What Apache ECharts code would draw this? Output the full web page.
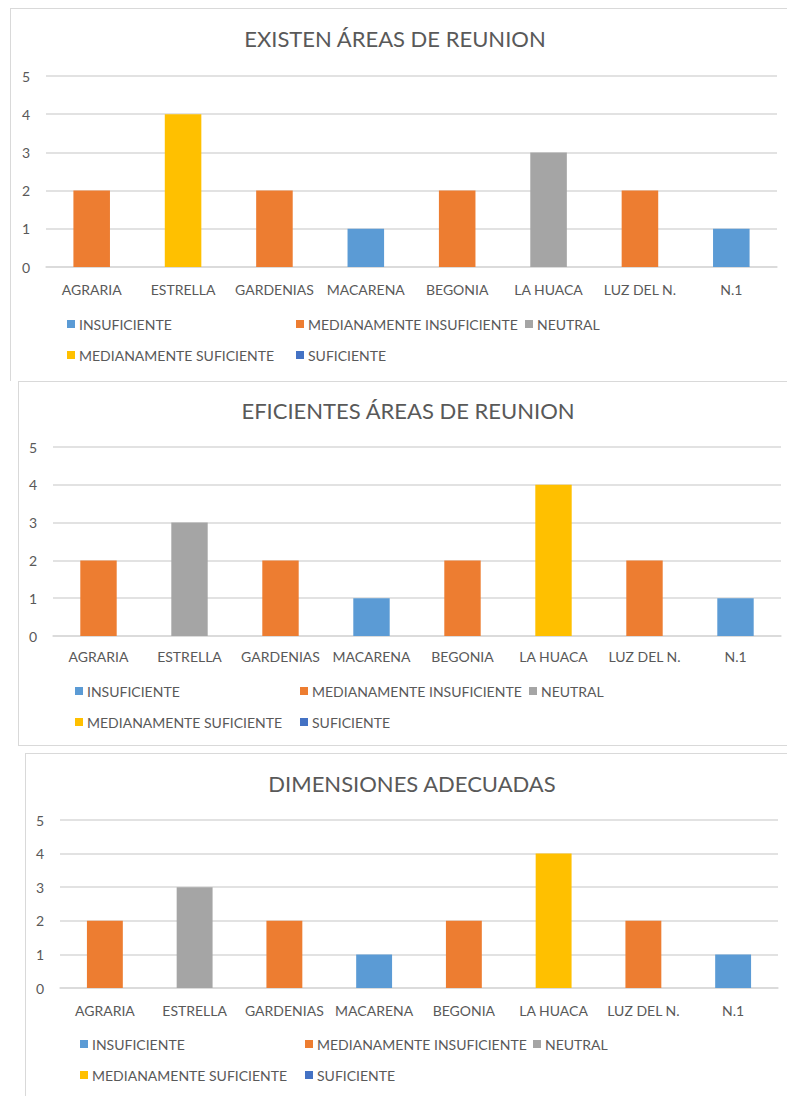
<!DOCTYPE html>
<html>
<head>
<meta charset="utf-8">
<script src="https://cdn.jsdelivr.net/npm/echarts@6/dist/echarts.min.js"></script>
<style>
  html, body { margin: 0; padding: 0; width: 787px; height: 1096px; overflow: hidden; background: #fff; }
  .panel { position: absolute; border: 1px solid #d9d9d9; background: #fff; }
</style>
</head>
<body>
<div class="panel" style="left:10px;top:8px;width:800px;height:372px;border-bottom:none;">
  <div id="c1" style="width:768px;height:372px;"></div>
</div>
<div class="panel" style="left:18px;top:381px;width:800px;height:363px;">
  <div id="c2" style="width:778px;height:363px;"></div>
</div>
<div class="panel" style="left:25px;top:753px;width:800px;height:400px;">
  <div id="c3" style="width:772px;height:400px;"></div>
</div>
<script>
// data
const categories = ['AGRARIA', 'ESTRELLA', 'GARDENIAS', 'MACARENA', 'BEGONIA', 'LA HUACA', 'LUZ DEL N.', 'N.1'];
const seriesNames = ['INSUFICIENTE', 'MEDIANAMENTE INSUFICIENTE', 'NEUTRAL', 'MEDIANAMENTE SUFICIENTE', 'SUFICIENTE'];
const seriesColors = ['#5b9bd5', '#ed7d31', '#a5a5a5', '#ffc000', '#4472c4'];
const yTicks = [0, 1, 2, 3, 4, 5];

// EXISTEN ÁREAS DE REUNION
const existenInsuficiente      = [0, 0, 0, 1, 0, 0, 0, 1];
const existenMedInsuficiente   = [2, 0, 2, 0, 2, 0, 2, 0];
const existenNeutral           = [0, 0, 0, 0, 0, 3, 0, 0];
const existenMedSuficiente     = [0, 4, 0, 0, 0, 0, 0, 0];
const existenSuficiente        = [0, 0, 0, 0, 0, 0, 0, 0];

// EFICIENTES ÁREAS DE REUNION
const eficientesInsuficiente    = [0, 0, 0, 1, 0, 0, 0, 1];
const eficientesMedInsuficiente = [2, 0, 2, 0, 2, 0, 2, 0];
const eficientesNeutral         = [0, 3, 0, 0, 0, 0, 0, 0];
const eficientesMedSuficiente   = [0, 0, 0, 0, 0, 4, 0, 0];
const eficientesSuficiente      = [0, 0, 0, 0, 0, 0, 0, 0];

// DIMENSIONES ADECUADAS
const dimensionesInsuficiente    = [0, 0, 0, 1, 0, 0, 0, 1];
const dimensionesMedInsuficiente = [2, 0, 2, 0, 2, 0, 2, 0];
const dimensionesNeutral         = [0, 3, 0, 0, 0, 0, 0, 0];
const dimensionesMedSuficiente   = [0, 0, 0, 0, 0, 4, 0, 0];
const dimensionesSuficiente      = [0, 0, 0, 0, 0, 0, 0, 0];

const font = 'Lato, "Open Sans", sans-serif';
const textColor = '#595959';

function buildChart(el, title, values, lay) {
    const chart = echarts.init(document.getElementById(el), null, { renderer: 'svg' });
    const legendPos = [
        [lay.legendLeft[0], lay.legendTop[0]],
        [lay.legendLeft[1], lay.legendTop[0]],
        [lay.legendLeft[2], lay.legendTop[0]],
        [lay.legendLeft[0], lay.legendTop[1]],
        [lay.legendLeft[1], lay.legendTop[1]]
    ];
    chart.setOption({
        animation: false,
        title: {
            text: title, left: 'center', top: lay.titleTop, padding: 0,
            textStyle: { fontFamily: font, fontSize: 22, fontWeight: 'normal', color: textColor }
        },
        grid: { left: lay.gridLeft, top: lay.gridTop, width: lay.gridWidth, height: lay.gridHeight },
        legend: seriesNames.map((n, i) => ({
            data: [n], left: legendPos[i][0], top: legendPos[i][1], padding: 0,
            icon: 'rect', itemWidth: 8, itemHeight: 8,
            textStyle: { fontFamily: font, fontSize: 14, color: textColor, padding: [0, 0, 0, -1] }
        })),
        xAxis: {
            type: 'category', data: categories,
            axisLine: { lineStyle: { color: '#d9d9d9', width: 1.5 } },
            axisTick: { show: false },
            axisLabel: { fontFamily: font, fontSize: 14, color: textColor, margin: lay.xMargin, interval: 0 }
        },
        yAxis: {
            type: 'value', min: yTicks[0], max: yTicks[yTicks.length - 1], interval: 1,
            axisLine: { show: false }, axisTick: { show: false },
            axisLabel: { fontFamily: font, fontSize: 14, color: textColor, margin: 16 },
            splitLine: { lineStyle: { color: '#d9d9d9', width: 1.5 } }
        },
        series: seriesNames.map((n, i) => ({
            name: n, type: 'bar', stack: 'total', barWidth: '40%',
            itemStyle: { color: seriesColors[i] },
            data: values[i]
        }))
    });
}

buildChart('c1', 'EXISTEN ÁREAS DE REUNION',
    [existenInsuficiente, existenMedInsuficiente, existenNeutral, existenMedSuficiente, existenSuficiente],
    { titleTop: 18, gridLeft: 35, gridTop: 67, gridWidth: 731, gridHeight: 191, xMargin: 15,
      legendLeft: [56, 285, 514], legendTop: [308, 339] });

buildChart('c2', 'EFICIENTES ÁREAS DE REUNION',
    [eficientesInsuficiente, eficientesMedInsuficiente, eficientesNeutral, eficientesMedSuficiente, eficientesSuficiente],
    { titleTop: 17, gridLeft: 34, gridTop: 65, gridWidth: 728, gridHeight: 189, xMargin: 13,
      legendLeft: [56, 281, 510], legendTop: [302, 333] });

buildChart('c3', 'DIMENSIONES ADECUADAS',
    [dimensionesInsuficiente, dimensionesMedInsuficiente, dimensionesNeutral, dimensionesMedSuficiente, dimensionesSuficiente],
    { titleTop: 18, gridLeft: 34, gridTop: 66, gridWidth: 718, gridHeight: 168, xMargin: 15,
      legendLeft: [54, 279, 507], legendTop: [283, 314] });
</script>
</body>
</html>
